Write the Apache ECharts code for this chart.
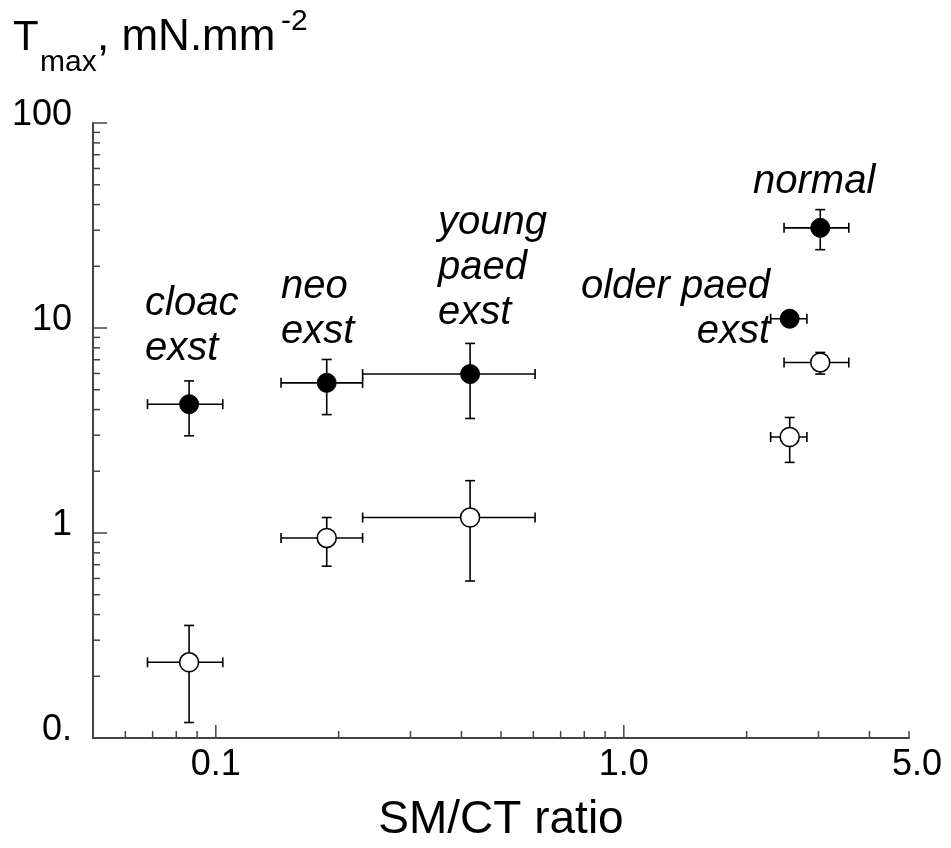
<!DOCTYPE html>
<html>
<head>
<meta charset="utf-8">
<title>Tmax vs SM/CT ratio</title>
<script src="https://cdn.jsdelivr.net/npm/echarts@6/dist/echarts.min.js"></script>
<style>
  html, body { margin: 0; padding: 0; background: #fff; }
  #chart { width: 951px; height: 848px; }
</style>
</head>
<body>
<div id="chart"></div>
<script>
// groups, left to right
const groups = ['cloac exst', 'neo exst', 'young paed exst', 'older paed exst', 'normal'];

// SM/CT ratio (x) with horizontal error limits
const smct = [0.086, 0.187, 0.42, 2.55, 3.03];
const smctLow = [0.068, 0.1445, 0.229, 2.29, 2.47];
const smctHigh = [0.104, 0.229, 0.606, 2.81, 3.56];

// Tmax, filled symbols
const filledT = [4.25, 5.40, 5.96, 11.1, 30.8];
const filledLow = [2.98, 3.78, 3.62, 10.5, 24.1];
const filledHigh = [5.52, 7.02, 8.41, 11.7, 37.8];

// Tmax, open symbols
const openT = [0.234, 0.946, 1.19, 2.94, 6.79];
const openLow = [0.119, 0.689, 0.583, 2.21, 5.96];
const openHigh = [0.354, 1.19, 1.80, 3.66, 7.6];

// axis labels and ticks
const xTickValues = [0.1, 1, 5];
const xTickLabels = ['0.1', '1.0', '{last|5.0}'];
const yTickValues = [0.1, 1, 10, 100];
const yTickLabels = ['0.', '1', '10', '100'];
const xMajorTicks = [0.1, 1];
const xMinorTicks = [0.06, 0.07, 0.08, 0.09, 0.2, 0.3, 0.4, 0.5, 0.6, 0.7, 0.8, 0.9, 2, 3, 4, 5];
const yMajorTicks = [1, 10, 100];
const yMinorTicks = [0.2, 0.3, 0.4, 0.5, 0.6, 0.7, 0.8, 0.9, 2, 3, 4, 5, 6, 7, 8, 9, 20, 30, 40, 50, 60, 70, 80, 90];

const X_MIN = 0.05, X_MAX = 5, Y_MIN = 0.1, Y_MAX = 100;
const FONT = '"Liberation Sans", Arial, Helvetica, sans-serif';
const AXIS_COLOR = '#444';

function pickLabel(v, values, labels) {
  for (let i = 0; i < values.length; i++) {
    if (Math.abs(Math.log10(v) - Math.log10(values[i])) < 1e-6) return labels[i];
  }
  return '';
}

// error bars: [x, y, xLow, xHigh, yLow, yHigh]
function errorData(yv, yl, yh) {
  return smct.map((x, i) => [x, yv[i], smctLow[i], smctHigh[i], yl[i], yh[i]]);
}

function renderErrorBar(params, api) {
  const c = api.coord([api.value(0), api.value(1)]);
  const xl = api.coord([api.value(2), api.value(1)]);
  const xh = api.coord([api.value(3), api.value(1)]);
  const yl = api.coord([api.value(0), api.value(4)]);
  const yh = api.coord([api.value(0), api.value(5)]);
  const cap = 5;
  const style = { stroke: '#000', lineWidth: 1.6, fill: null };
  const seg = (x1, y1, x2, y2) => ({ type: 'line', shape: { x1, y1, x2, y2 }, style });
  return {
    type: 'group',
    children: [
      seg(xl[0], c[1], xh[0], c[1]),
      seg(xl[0], c[1] - cap, xl[0], c[1] + cap),
      seg(xh[0], c[1] - cap, xh[0], c[1] + cap),
      seg(c[0], yl[1], c[0], yh[1]),
      seg(c[0] - cap, yl[1], c[0] + cap, yl[1]),
      seg(c[0] - cap, yh[1], c[0] + cap, yh[1])
    ]
  };
}

// inside ticks drawn through the axis scales
function xTickRenderer(len) {
  return (params, api) => {
    const p = api.coord([api.value(0), Y_MIN]);
    return { type: 'line', shape: { x1: p[0], y1: p[1], x2: p[0], y2: p[1] - len },
      style: { stroke: AXIS_COLOR, lineWidth: 1.5 } };
  };
}
function yTickRenderer(len) {
  return (params, api) => {
    const p = api.coord([X_MIN, api.value(1)]);
    return { type: 'line', shape: { x1: p[0], y1: p[1], x2: p[0] + len, y2: p[1] },
      style: { stroke: AXIS_COLOR, lineWidth: 1.5 } };
  };
}
function tickSeries(data, renderer) {
  return { type: 'custom', silent: true, clip: false, z: 1, renderItem: renderer, data: data, encode: { x: 0, y: 1 } };
}

// italic group labels
function note(text, x, baseline, align) {
  return {
    type: 'text', x: x, y: baseline - 0.3465 * 40 - 22.5, silent: true,
    style: { text: text, fontSize: 40, fontStyle: 'italic', fontFamily: FONT, lineHeight: 45,
      align: align, verticalAlign: 'top', fill: '#000' }
  };
}
function titlePart(text, x, baseline, size) {
  return {
    type: 'text', x: x, y: baseline - 0.3465 * size, silent: true,
    style: { text: text, fontSize: size, fontFamily: FONT, align: 'left', verticalAlign: 'middle', fill: '#000' }
  };
}

const chart = echarts.init(document.getElementById('chart'));

const option = {
  backgroundColor: '#fff',
  animation: false,
  grid: { left: 93, right: 42, top: 123, bottom: 101 },
  xAxis: {
    type: 'log', logBase: 10, min: X_MIN, max: X_MAX,
    name: 'SM/CT ratio', nameLocation: 'middle', nameGap: 59,
    nameTextStyle: { fontSize: 46, fontFamily: FONT, color: '#000' },
    axisLine: { show: true, lineStyle: { color: AXIS_COLOR, width: 2 } },
    axisTick: { show: false },
    splitLine: { show: false },
    axisLabel: {
      fontSize: 36, fontFamily: FONT, color: '#000', margin: 9,
      showMinLabel: true, showMaxLabel: true,
      formatter: v => pickLabel(v, xTickValues, xTickLabels),
      rich: { last: { fontSize: 36, fontFamily: FONT, color: '#000', padding: [0, 0, 0, 16] } }
    }
  },
  yAxis: {
    type: 'log', logBase: 10, min: Y_MIN, max: Y_MAX,
    axisLine: { show: true, lineStyle: { color: AXIS_COLOR, width: 2 } },
    axisTick: { show: false },
    splitLine: { show: false },
    axisLabel: {
      fontSize: 36, fontFamily: FONT, color: '#000', margin: 21,
      verticalAlign: 'bottom', lineHeight: 16,
      showMinLabel: true, showMaxLabel: true,
      formatter: v => pickLabel(v, yTickValues, yTickLabels)
    }
  },
  graphic: [
    titlePart('T', 13, 53, 42),
    titlePart('max', 40, 73, 30),
    titlePart(', mN.mm', 97, 53, 44),
    titlePart('-2', 281, 32, 30),
    note('cloac\nexst', 145, 318, 'left'),
    note('neo\nexst', 281, 301, 'left'),
    note('young\npaed\nexst', 438, 237, 'left'),
    note('older paed\nexst', 770, 301, 'right'),
    note('normal', 753, 196, 'left')
  ],
  series: [
    tickSeries(xMajorTicks.map(v => [v, Y_MIN]), xTickRenderer(13)),
    tickSeries(xMinorTicks.map(v => [v, Y_MIN]), xTickRenderer(7)),
    tickSeries(yMajorTicks.map(v => [X_MIN, v]), yTickRenderer(14)),
    tickSeries(yMinorTicks.map(v => [X_MIN, v]), yTickRenderer(7)),
    {
      name: 'filled error', type: 'custom', z: 2, silent: true,
      renderItem: renderErrorBar, encode: { x: 0, y: 1 },
      data: errorData(filledT, filledLow, filledHigh)
    },
    {
      name: 'open error', type: 'custom', z: 2, silent: true,
      renderItem: renderErrorBar, encode: { x: 0, y: 1 },
      data: errorData(openT, openLow, openHigh)
    },
    {
      name: 'filled', type: 'scatter', z: 3, symbol: 'circle', symbolSize: 19,
      itemStyle: { color: '#000', borderColor: '#000', borderWidth: 1, opacity: 1 },
      data: smct.map((x, i) => [x, filledT[i], groups[i]])
    },
    {
      name: 'open', type: 'scatter', z: 3, symbol: 'circle', symbolSize: 19,
      itemStyle: { color: '#fff', borderColor: '#000', borderWidth: 1.6, opacity: 1 },
      data: smct.map((x, i) => [x, openT[i], groups[i]])
    }
  ]
};

chart.setOption(option);
</script>
</body>
</html>
